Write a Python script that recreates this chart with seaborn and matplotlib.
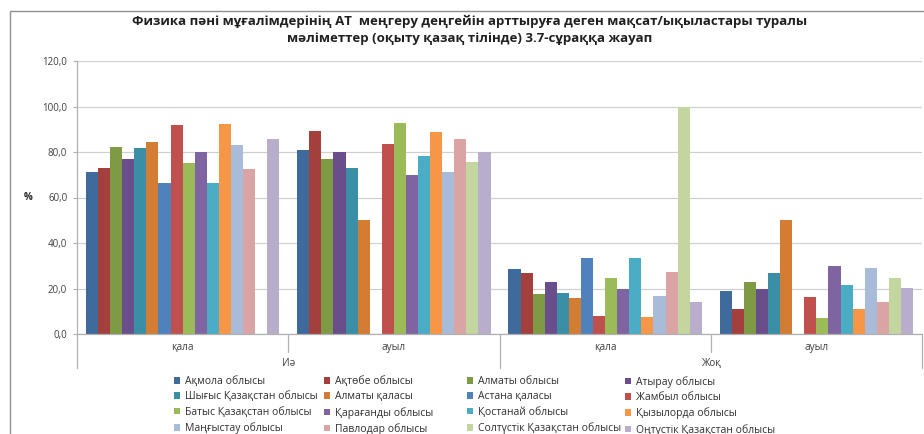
import numpy as np
import pandas as pd
import matplotlib
matplotlib.use("Agg")
import matplotlib.pyplot as plt
import seaborn as sns
from matplotlib.patches import Rectangle

title = ("Физика пәні мұғалімдерінің АТ  меңгеру деңгейін арттыруға деген мақсат/ықыластары туралы\n"
         "мәліметтер (оқыту қазақ тілінде) 3.7-сұраққа жауап")

answers = ["Иә", "Жоқ"]
places = ["қала", "ауыл", "қала", "ауыл"]
group_ids = ["Иә|қала", "Иә|ауыл", "Жоқ|қала", "Жоқ|ауыл"]

regions = ["Ақмола облысы", "Ақтөбе облысы", "Алматы облысы", "Атырау облысы",
           "Шығыс Қазақстан облысы", "Алматы қаласы", "Астана қаласы", "Жамбыл облысы",
           "Батыс Қазақстан облысы", "Қарағанды облысы", "Қостанай облысы", "Қызылорда облысы",
           "Маңғыстау облысы", "Павлодар облысы", "Солтүстік Қазақстан облысы", "Оңтүстік Қазақстан облысы"]

colors = ["#3F6A9C", "#A3403D", "#7E9A45", "#6A4E8C", "#3A8EA6", "#D27C34",
          "#4F81BD", "#C0504D", "#9BBB59", "#8064A2", "#4BACC6", "#F79646",
          "#A8BCDA", "#D9A4A3", "#C3D69F", "#B8AECB"]

nan = np.nan
yes_city = [71.3, 73.1, 82.1, 76.9, 81.8, 84.2, 66.5, 91.7, 75.0, 79.9, 66.5, 92.4, 83.2, 72.6, nan, 85.8]
yes_village = [80.8, 89.2, 76.9, 80.2, 73.1, 50.0, nan, 83.6, 92.8, 70.0, 78.2, 89.0, 71.0, 85.8, 75.5, 79.9]
no_city = [28.5, 26.9, 17.7, 23.0, 18.2, 15.7, 33.2, 8.1, 24.7, 19.9, 33.2, 7.3, 16.5, 27.2, 100.0, 13.9]
no_village = [19.0, 10.8, 23.0, 19.6, 26.9, 50.0, nan, 16.1, 7.0, 29.9, 21.7, 11.0, 28.8, 14.1, 24.5, 20.1]

yticks = [0, 20, 40, 60, 80, 100, 120]
ytick_labels = ["0,0", "20,0", "40,0", "60,0", "80,0", "100,0", "120,0"]

rows = []
for gid, vals in zip(group_ids, [yes_city, yes_village, no_city, no_village]):
    for r, v in zip(regions, vals):
        rows.append({"group": gid, "region": r, "value": v})
df = pd.DataFrame(rows)

sns.set_theme(style="white")
plt.rcParams["font.family"] = ["Open Sans", "DejaVu Sans"]

W, H = 924, 434
fig = plt.figure(figsize=(W / 100, H / 100), dpi=100)
ax = fig.add_axes([77 / W, 1 - 334 / H, (922 - 77) / W, 273 / H])

sns.barplot(data=df, x="group", y="value", hue="region", order=group_ids,
            hue_order=regions, palette=colors, width=0.915, dodge=True,
            errorbar=None, saturation=1, ax=ax, linewidth=0, edgecolor="none")

ax.set_ylim(0, 120)
ax.set_xlim(-0.5, len(group_ids) - 0.5)
ax.set_yticks(yticks)
ax.set_yticklabels(ytick_labels, fontsize=7, color="#404040")
ax.yaxis.grid(True, color="#D0D0D0", linewidth=0.9)
ax.set_axisbelow(True)
ax.tick_params(axis="y", length=3, width=0.8, color="#B0B0B0", pad=4, left=True)
ax.set_ylabel("%", rotation=0, fontsize=7, fontweight="bold", va="center")
ax.yaxis.set_label_coords(-0.058, 0.5)
ax.set_xlabel("")
ax.set_xticks(range(len(group_ids)))
ax.set_xticklabels(places, fontsize=7.2, color="#404040")
ax.tick_params(axis="x", length=0, pad=6)
for s in ["top", "right"]:
    ax.spines[s].set_visible(False)
for s in ["left", "bottom"]:
    ax.spines[s].set_color("#B0B0B0")
    ax.spines[s].set_linewidth(0.9)

# multi-level category axis: separators and top-level labels
trans = ax.get_xaxis_transform()
n = len(group_ids)
for i in range(n + 1):
    xb = i - 0.5
    long_line = (i % 2 == 0)
    y_end = -34 / 273 if long_line else -18 / 273
    ax.plot([xb, xb], [0, y_end], transform=trans, color="#B0B0B0",
            linewidth=0.9, clip_on=False)
for k, a in enumerate(answers):
    ax.text(2 * k + 0.5, -29 / 273, a, transform=trans, ha="center", va="center",
            fontsize=7.2, color="#404040")

# legend: 4 columns, row-major order
handles, labels = ax.get_legend_handles_labels()
ax.legend_.remove()
ncol = 4
col_x = [174, 324, 467, 625]
for c in range(ncol):
    idx = list(range(c, len(regions), ncol))
    fig.legend([handles[i] for i in idx], [labels[i] for i in idx], ncol=1,
               loc="upper left", bbox_to_anchor=(col_x[c] / W, 1 - 376 / H), frameon=False,
               fontsize=7.5, handlelength=0.6, handleheight=0.6, handletextpad=0.5,
               labelspacing=0.42, borderaxespad=0, borderpad=0, labelcolor="#303030")

fig.text(470 / W, 1 - 30 / H, title, ha="center", va="center", fontsize=9.5,
         fontweight="bold", linespacing=1.45, color="#202020")

fig.patches.append(Rectangle((10 / W, -0.05), 1.0, 1 - 11 / H + 0.05,
                             transform=fig.transFigure, fill=False,
                             edgecolor="#909090", linewidth=1.0))

fig.savefig("out.png", dpi=100)
